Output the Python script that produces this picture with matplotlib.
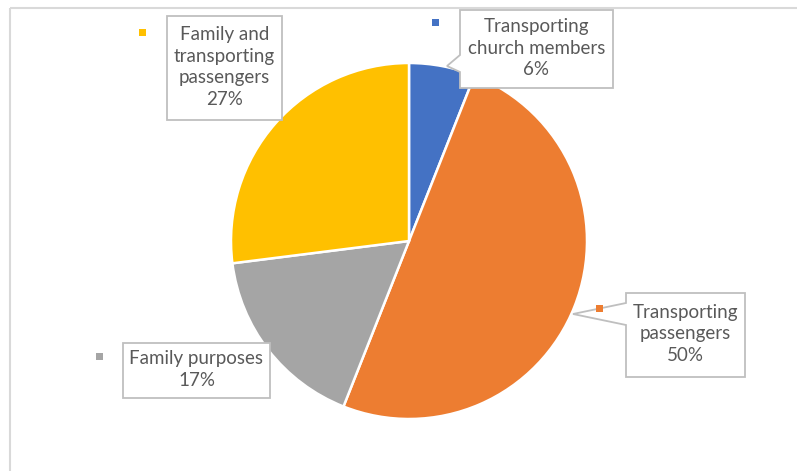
import matplotlib.pyplot as plt
from matplotlib.patches import Polygon, Rectangle

# data
labels = ["Transporting\nchurch members", "Transporting\npassengers",
          "Family purposes", "Family and\ntransporting\npassengers"]
values = [6, 50, 17, 27]
colors = ["#4472C4", "#ED7D31", "#A5A5A5", "#FFC000"]

W, H = 797, 471
fig = plt.figure(figsize=(W / 100, H / 100), dpi=100)
ax = fig.add_axes([0, 0, 1, 1])

# y axis is flipped so positions read like pixels; pie goes clockwise from top
ax.pie(values, colors=colors, startangle=-90, counterclock=True,
       center=(409, 241), radius=178,
       wedgeprops=dict(edgecolor="white", linewidth=1.8))
ax.set_xlim(0, W)
ax.set_ylim(H, 0)
ax.set_aspect("auto")
ax.axis("off")

# chart area border (only top and left visible)
ax.plot([10, W], [8, 8], color="#D9D9D9", lw=1.5, solid_capstyle="butt")
ax.plot([10, 10], [8, H], color="#D9D9D9", lw=1.5, solid_capstyle="butt")

# label boxes: (x0, y0, x1, y1), key marker position, optional pointer
boxes = [
    ((460, 10, 613, 88), (436, 22), ((460, 55), (447, 66), (460, 72))),
    ((626, 293, 745, 377), (600, 308), ((626, 303), (573, 314), (626, 325))),
    ((123, 343, 270, 398), (100, 356), None),
    ((167, 16, 282, 120), (143, 32), None),
]

for lab, val, col, (box, key, ptr) in zip(labels, values, colors, boxes):
    x0, y0, x1, y1 = box
    if ptr is None:
        verts = [(x0, y0), (x1, y0), (x1, y1), (x0, y1)]
    else:
        verts = [(x0, y0), (x1, y0), (x1, y1), (x0, y1), ptr[2], ptr[1], ptr[0]]
    ax.add_patch(Polygon(verts, closed=True, facecolor="white",
                         edgecolor="#BFBFBF", lw=1.3, zorder=5))
    ax.add_patch(Rectangle((key[0] - 3.5, key[1] - 3.5), 7, 7,
                           facecolor=col, edgecolor="none", zorder=5))
    ax.text((x0 + x1) / 2, (y0 + y1) / 2 - 1, f"{lab}\n{val}%",
            ha="center", va="center", fontsize=13.5, color="#595959",
            family="Lato", linespacing=1.35, zorder=6)

fig.savefig("out.png", dpi=100)
